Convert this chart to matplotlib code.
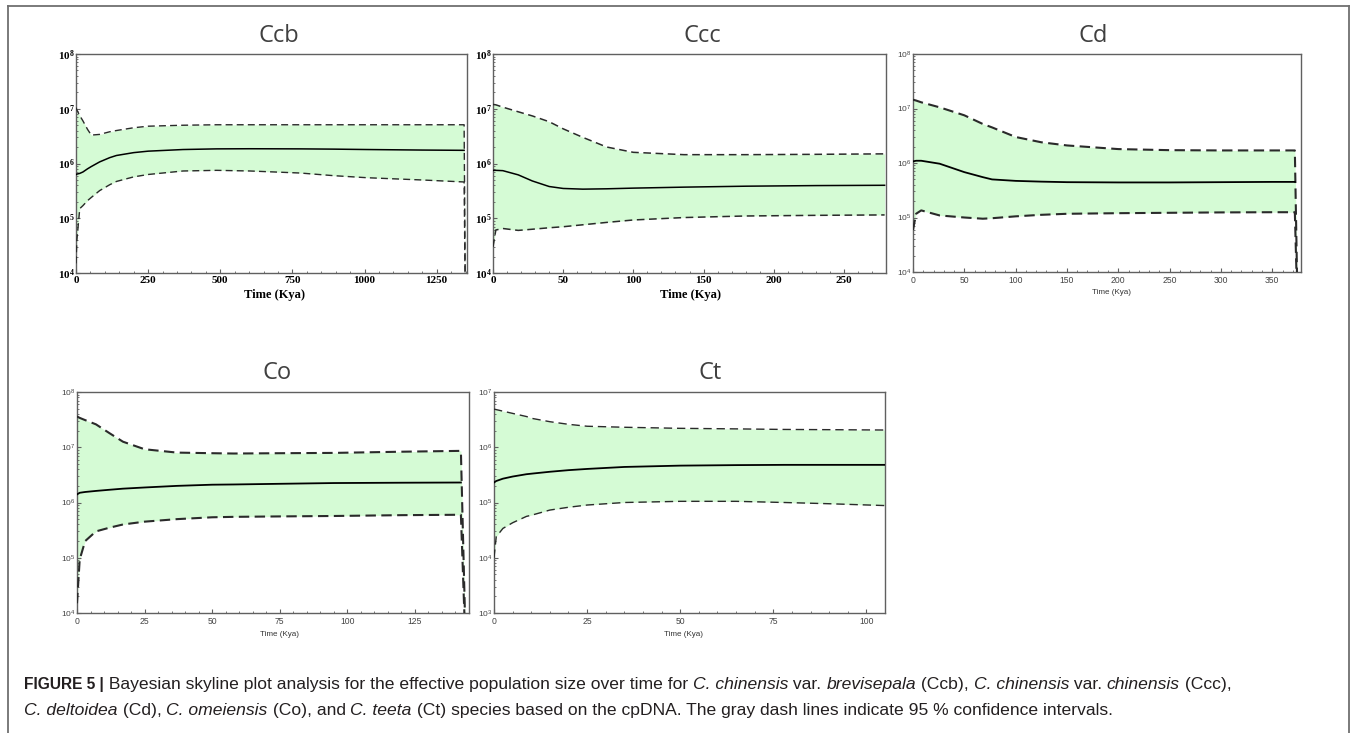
import numpy as np
import matplotlib
matplotlib.use("Agg")
import matplotlib.pyplot as plt
from matplotlib.ticker import MultipleLocator, FuncFormatter, LogLocator, NullFormatter
from matplotlib.lines import Line2D

plt.rcParams['mathtext.fontset'] = 'custom'
plt.rcParams['mathtext.rm'] = 'Liberation Serif'
plt.rcParams['mathtext.bf'] = 'Liberation Serif:bold'
plt.rcParams['mathtext.sf'] = 'Liberation Sans'

# ---------------- data ----------------
ccb_time = [0, 3, 13, 24, 40, 53, 82, 117, 140, 200, 250, 371, 487, 603, 777, 892, 1008, 1200, 1345, 1350]
ccb_upper = [1.05e7, 9.5e6, 7.5e6, 6.0e6, 4.2e6, 3.3e6, 3.4e6, 3.8e6, 4.0e6, 4.5e6, 4.8e6, 5.0e6, 5.1e6, 5.1e6, 5.1e6, 5.1e6, 5.1e6, 5.1e6, 5.1e6, 1e3]
ccb_lower = [1.5e4, 4e4, 1.5e5, 1.7e5, 2.1e5, 2.4e5, 3.2e5, 4.1e5, 4.7e5, 5.7e5, 6.3e5, 7.3e5, 7.5e5, 7.3e5, 6.7e5, 6.0e5, 5.5e5, 5.0e5, 4.6e5, 1e3]
ccb_median = [6.3e5, 6.4e5, 6.6e5, 7.0e5, 8.0e5, 8.8e5, 1.07e6, 1.28e6, 1.4e6, 1.58e6, 1.68e6, 1.8e6, 1.85e6, 1.86e6, 1.85e6, 1.83e6, 1.8e6, 1.76e6, 1.74e6, np.nan]

ccc_time = [0, 2, 7, 18, 28, 40, 50, 64, 81, 100, 136, 180, 230, 279]
ccc_upper = [1.2e7, 1.18e7, 1.07e7, 8.8e6, 7.4e6, 5.8e6, 4.3e6, 3.0e6, 2.0e6, 1.6e6, 1.45e6, 1.45e6, 1.47e6, 1.5e6]
ccc_lower = [3e4, 6.1e4, 6.5e4, 6.0e4, 6.3e4, 6.7e4, 7.0e4, 7.6e4, 8.4e4, 9.3e4, 1.03e5, 1.1e5, 1.13e5, 1.15e5]
ccc_median = [7.5e5, 7.5e5, 7.4e5, 6.2e5, 4.8e5, 3.8e5, 3.5e5, 3.4e5, 3.45e5, 3.55e5, 3.7e5, 3.85e5, 3.95e5, 4.0e5]

cd_time = [0, 3, 8, 26, 50, 68, 77, 100, 125, 150, 200, 250, 300, 350, 372, 375]
cd_upper = [1.45e7, 1.4e7, 1.3e7, 1.05e7, 7.5e6, 5.2e6, 4.5e6, 3.0e6, 2.4e6, 2.1e6, 1.8e6, 1.72e6, 1.7e6, 1.7e6, 1.7e6, 1e3]
cd_lower = [5.9e4, 1.17e5, 1.35e5, 1.09e5, 1.0e5, 9.5e4, 9.7e4, 1.05e5, 1.12e5, 1.17e5, 1.2e5, 1.22e5, 1.24e5, 1.25e5, 1.25e5, 1e3]
cd_median = [1.07e6, 1.1e6, 1.1e6, 9.7e5, 6.8e5, 5.5e5, 5.0e5, 4.7e5, 4.55e5, 4.45e5, 4.4e5, 4.4e5, 4.45e5, 4.5e5, 4.5e5, np.nan]

co_time = [0, 1, 3, 7, 12, 17, 25, 37, 50, 58, 75, 95, 120, 142, 144]
co_upper = [3.6e7, 3.4e7, 3.1e7, 2.6e7, 1.8e7, 1.26e7, 9.2e6, 8.0e6, 7.8e6, 7.7e6, 7.8e6, 7.9e6, 8.3e6, 8.6e6, 1e3]
co_lower = [1.5e4, 9.3e4, 2.0e5, 3.0e5, 3.5e5, 4.0e5, 4.5e5, 5.0e5, 5.4e5, 5.5e5, 5.6e5, 5.7e5, 5.9e5, 6.0e5, 1e3]
co_median = [1.4e6, 1.5e6, 1.55e6, 1.62e6, 1.7e6, 1.78e6, 1.87e6, 2.0e6, 2.1e6, 2.12e6, 2.18e6, 2.25e6, 2.28e6, 2.3e6, np.nan]

ct_time = [0, 0.6, 2.4, 5, 8.7, 10.5, 15, 20, 25, 35, 50, 65, 78, 90, 105]
ct_upper = [4.9e6, 4.8e6, 4.5e6, 4.1e6, 3.6e6, 3.3e6, 2.9e6, 2.6e6, 2.4e6, 2.3e6, 2.2e6, 2.15e6, 2.1e6, 2.08e6, 2.05e6]
ct_lower = [1.0e4, 2.4e4, 3.4e4, 4.3e4, 5.6e4, 6.0e4, 7.3e4, 8.2e4, 9.0e4, 1.0e5, 1.05e5, 1.05e5, 1.0e5, 9.5e4, 8.8e4]
ct_median = [2.3e5, 2.45e5, 2.7e5, 2.95e5, 3.25e5, 3.35e5, 3.6e5, 3.85e5, 4.05e5, 4.4e5, 4.65e5, 4.75e5, 4.8e5, 4.8e5, 4.8e5]

titles = ["Ccb", "Ccc", "Cd", "Co", "Ct"]
xlabel = "Time (Kya)"

# ---------------- figure ----------------
W, H = 1357, 733
fig = plt.figure(figsize=(W / 100, H / 100), dpi=100)


def px_axes(l, t, r, b):
    return fig.add_axes([l / W, 1 - b / H, (r - l) / W, (b - t) / H])


FILL = '#d5fbd5'
FRAME = '#606060'

panels = [
    dict(box=(76, 54, 467, 273), t=ccb_time, up=ccb_upper, lo=ccb_lower, med=ccb_median,
         xlim=1355, ylim=(1e4, 1e8), xmaj=250, xmin=50, serif=True, dlw=1.0, dash=(5, 3),
         title_xy=(279, 36), xl_xy=(275, 295)),
    dict(box=(493, 54, 886, 273), t=ccc_time, up=ccc_upper, lo=ccc_lower, med=ccc_median,
         xlim=280, ylim=(1e4, 1e8), xmaj=50, xmin=10, serif=True, dlw=1.1, dash=(5, 3),
         title_xy=(702, 36), xl_xy=(690, 295)),
    dict(box=(913, 54, 1301, 272), t=cd_time, up=cd_upper, lo=cd_lower, med=cd_median,
         xlim=378, ylim=(1e4, 1e8), xmaj=50, xmin=10, serif=False, dlw=1.5, dash=(5, 2.6),
         title_xy=(1093, 36), xl_xy=(1112, 292)),
    dict(box=(77, 392, 469, 613), t=co_time, up=co_upper, lo=co_lower, med=co_median,
         xlim=145, ylim=(1e4, 1e8), xmaj=25, xmin=5, serif=False, dlw=1.5, dash=(5, 2.6),
         title_xy=(277, 373), xl_xy=(279, 634)),
    dict(box=(494, 392, 885, 613), t=ct_time, up=ct_upper, lo=ct_lower, med=ct_median,
         xlim=105, ylim=(1e3, 1e7), xmaj=25, xmin=5, serif=False, dlw=1.0, dash=(6, 3.5),
         title_xy=(710, 373), xl_xy=(683, 634)),
]

for p, title in zip(panels, titles):
    ax = px_axes(*p['box'])
    t = np.array(p['t'], dtype=float)
    up = np.array(p['up'], dtype=float)
    lo = np.array(p['lo'], dtype=float)
    med = np.array(p['med'], dtype=float)
    ax.fill_between(t, lo, up, color=FILL, lw=0, zorder=1)
    ax.plot(t, up, color='#2a2a2a', lw=p['dlw'], dashes=p['dash'], zorder=3)
    ax.plot(t, lo, color='#2a2a2a', lw=p['dlw'], dashes=p['dash'], zorder=3)
    ax.plot(t, med, color='black', lw=1.3 if not p['serif'] else 1.1, zorder=4)
    ax.set_yscale('log')
    ax.set_xlim(0, p['xlim'])
    ax.set_ylim(*p['ylim'])
    for s in ax.spines.values():
        s.set_color(FRAME)
        s.set_linewidth(1.0)
    ax.xaxis.set_major_locator(MultipleLocator(p['xmaj']))
    ax.xaxis.set_minor_locator(MultipleLocator(p['xmin']))
    ax.yaxis.set_major_locator(LogLocator(base=10, numticks=10))
    ax.yaxis.set_minor_locator(LogLocator(base=10, subs=np.arange(1, 10) * 1.0, numticks=20))
    ax.yaxis.set_minor_formatter(NullFormatter())
    ax.tick_params(which='both', direction='in', color=FRAME)
    ax.tick_params(which='major', length=3, width=0.8)
    ax.tick_params(which='minor', length=1.5, width=0.6)
    if p['serif']:
        ax.yaxis.set_major_formatter(FuncFormatter(lambda v, pos: r'$\mathbf{10^{%d}}$' % round(np.log10(v))))
        ax.tick_params(axis='y', labelsize=8, pad=1, labelcolor='black')
        ax.tick_params(axis='x', labelsize=8, pad=2, labelcolor='black')
        for lab in ax.get_xticklabels():
            lab.set_fontfamily('Liberation Serif')
            lab.set_fontweight('bold')
        fig.text(p['xl_xy'][0] / W, 1 - p['xl_xy'][1] / H, xlabel, ha='center', va='center',
                 fontsize=9, fontweight='bold', family='Liberation Serif', color='black')
    else:
        ax.yaxis.set_major_formatter(FuncFormatter(lambda v, pos: r'$\mathsf{10^{%d}}$' % round(np.log10(v))))
        ax.tick_params(axis='y', labelsize=6, pad=1, labelcolor='#444444')
        ax.tick_params(axis='x', labelsize=6.2, pad=3, labelcolor='#444444')
        for lab in ax.get_xticklabels():
            lab.set_fontfamily('Liberation Sans')
        fig.text(p['xl_xy'][0] / W, 1 - p['xl_xy'][1] / H, xlabel, ha='center', va='center',
                 fontsize=5.8, family='Liberation Sans', color='#333333')
    fig.text(p['title_xy'][0] / W, 1 - p['title_xy'][1] / H, title, ha='center', va='center',
             fontsize=17, family='Open Sans', color='#404040')

# outer border (open at bottom)
bc = '#707070'
fig.add_artist(Line2D([8 / W, 8 / W], [0, 1 - 6 / H], color=bc, lw=1.3, transform=fig.transFigure))
fig.add_artist(Line2D([1349 / W, 1349 / W], [0, 1 - 6 / H], color=bc, lw=1.3, transform=fig.transFigure))
fig.add_artist(Line2D([8 / W, 1349 / W], [1 - 6 / H, 1 - 6 / H], color=bc, lw=1.3, transform=fig.transFigure))

# caption
cap_family = 'Liberation Sans'
line1 = [("FIGURE 5 |", 'normal', 'bold'),
         (" Bayesian skyline plot analysis for the effective population size over time for ", 'normal', 'normal'),
         ("C. chinensis", 'italic', 'normal'), (" var. ", 'normal', 'normal'),
         ("brevisepala", 'italic', 'normal'), (" (Ccb), ", 'normal', 'normal'),
         ("C. chinensis", 'italic', 'normal'), (" var. ", 'normal', 'normal'),
         ("chinensis", 'italic', 'normal'), (" (Ccc),", 'normal', 'normal')]
line2 = [("C. deltoidea", 'italic', 'normal'), (" (Cd), ", 'normal', 'normal'),
         ("C. omeiensis", 'italic', 'normal'), (" (Co), and ", 'normal', 'normal'),
         ("C. teeta", 'italic', 'normal'),
         (" (Ct) species based on the cpDNA. The gray dash lines indicate 95 % confidence intervals.", 'normal', 'normal')]

renderer = fig.canvas.get_renderer()


def draw_runs(runs, x0, y0, size, bold_size):
    x = x0
    for txt, style, weight in runs:
        sz = bold_size if weight == 'bold' else size
        tt = fig.text(x / W, 1 - y0 / H, txt, ha='left', va='baseline', fontsize=sz,
                      family=cap_family, style=style, fontweight=weight, color='#231f20')
        bb = tt.get_window_extent(renderer=renderer)
        x += bb.width


draw_runs(line1, 24, 689, 12.6, 11.2)
draw_runs(line2, 24, 715, 12.6, 11.2)

fig.savefig('out.png', dpi=100)
